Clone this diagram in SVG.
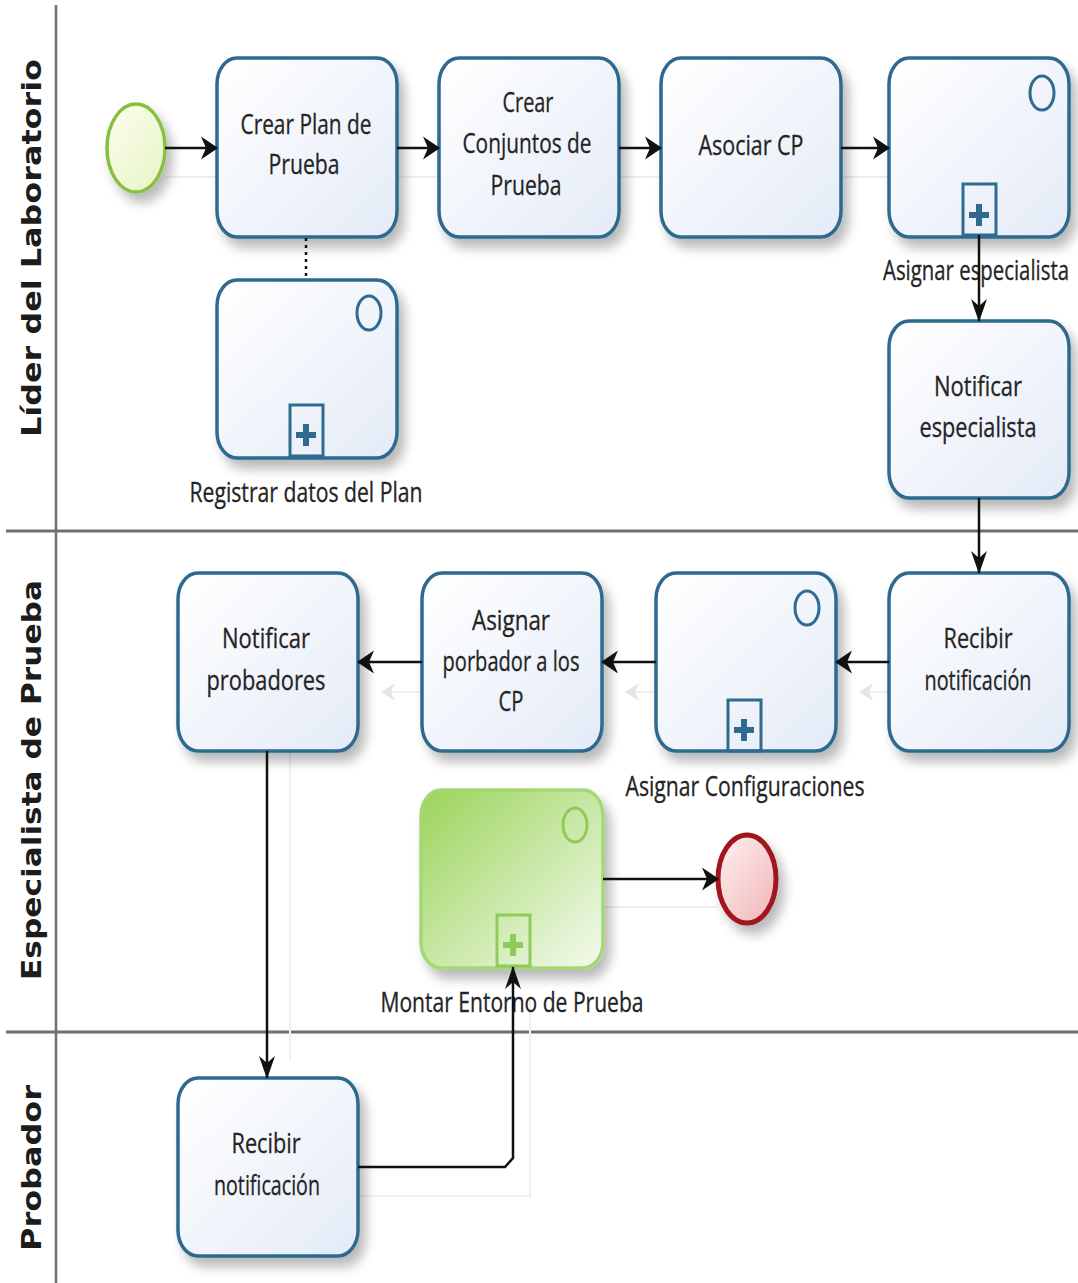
<svg xmlns="http://www.w3.org/2000/svg" width="1078" height="1283" viewBox="0 0 1078 1283">
  <defs>
    <linearGradient id="taskFill" x1="0" y1="0" x2="1" y2="1">
      <stop offset="0" stop-color="#ffffff"/>
      <stop offset="1" stop-color="#e4ebf7"/>
    </linearGradient>
    <linearGradient id="greenFill" x1="0" y1="0" x2="1" y2="1">
      <stop offset="0" stop-color="#9bd45a"/>
      <stop offset="1" stop-color="#f4faee"/>
    </linearGradient>
    <linearGradient id="startFill" x1="0" y1="0" x2="1" y2="1">
      <stop offset="0" stop-color="#fdfeee"/>
      <stop offset="1" stop-color="#e6f4c4"/>
    </linearGradient>
    <linearGradient id="endFill" x1="0" y1="0" x2="1" y2="1">
      <stop offset="0" stop-color="#fff2f2"/>
      <stop offset="1" stop-color="#f0b4b6"/>
    </linearGradient>
    <filter id="shadow" x="-20%" y="-20%" width="150%" height="150%">
      <feGaussianBlur in="SourceAlpha" stdDeviation="6"/>
      <feOffset dx="6" dy="9" result="b"/>
      <feComponentTransfer><feFuncA type="linear" slope="0.28"/></feComponentTransfer>
      <feMerge><feMergeNode/><feMergeNode in="SourceGraphic"/></feMerge>
    </filter>
    <marker id="arrowH" markerUnits="userSpaceOnUse" viewBox="0 -12 17 24" markerWidth="17" markerHeight="24" refX="16" refY="0" orient="auto">
      <path d="M0,-11.5 L17,0 L0,11.5 L5,0 Z" fill="#111"/>
    </marker>
    <marker id="arrowV" markerUnits="userSpaceOnUse" viewBox="0 -9 23 18" markerWidth="23" markerHeight="18" refX="22" refY="0" orient="auto">
      <path d="M0,-8 L23,0 L0,8 L7,0 Z" fill="#111"/>
    </marker>
    <marker id="ghostArrow" markerUnits="userSpaceOnUse" viewBox="0 -10 14 20" markerWidth="14" markerHeight="20" refX="13" refY="0" orient="auto">
      <path d="M0,-9 L14,0 L0,9 L4,0 Z" fill="#e6e6e6"/>
    </marker>
  </defs>
  <style>
    .task { fill: url(#taskFill); stroke: #2e6b8f; stroke-width: 3.5; filter: url(#shadow); }
    .mark { fill: none; stroke: #2e6b8f; stroke-width: 3; }
    .plus { fill: #2e6b8f; }
    .gmark { fill: none; stroke: #8fcb5a; stroke-width: 3; }
    .gplus { fill: #8fcb5a; }
    .txt { font-family: "Open Sans", "Liberation Sans", sans-serif; font-size: 27px; fill: #242424; stroke: #242424; stroke-width: 0.3; text-anchor: middle; }
    .lane { font-family: "DejaVu Sans", "Liberation Sans", sans-serif; font-weight: bold; font-size: 26px; fill: #1c1c1c; text-anchor: middle; }
    .pool { stroke: #6e6e6e; fill: none; }
    .flow { fill: none; stroke: #111; stroke-width: 2.5; }
    .ghost { fill: none; stroke: #efefef; stroke-width: 2; }
  </style>

  <!-- pool and lane borders -->
  <g id="lanes">
    <line class="pool" x1="56" y1="5" x2="56" y2="1283" stroke-width="2.5"/>
    <line class="pool" x1="6" y1="531" x2="1078" y2="531" stroke-width="3"/>
    <line class="pool" x1="6" y1="1032" x2="1078" y2="1032" stroke-width="3"/>
    <text class="lane" transform="translate(41,248) rotate(-90)" textLength="378" lengthAdjust="spacingAndGlyphs">Líder del Laboratorio</text>
    <text class="lane" transform="translate(41,780) rotate(-90)" textLength="400" lengthAdjust="spacingAndGlyphs">Especialista de Prueba</text>
    <text class="lane" transform="translate(41,1168) rotate(-90)" textLength="166" lengthAdjust="spacingAndGlyphs">Probador</text>
  </g>

  <!-- faint secondary routing lines -->
  <g id="ghost-lines">
    <path class="ghost" d="M166,177 H215 M398,177 H437 M620,177 H659 M842,177 H887"/>
    <path class="ghost" d="M420,692 H382" marker-end="url(#ghostArrow)"/>
    <path class="ghost" d="M656,692 H626" marker-end="url(#ghostArrow)"/>
    <path class="ghost" d="M890,692 H860" marker-end="url(#ghostArrow)"/>
    <path class="ghost" d="M604,907 H718"/>
    <path class="ghost" d="M290,752 V1060 M292,1196 H530 V1000"/>
  </g>

  <!-- start event -->
  <g id="start">
    <ellipse cx="136" cy="148" rx="29" ry="44" fill="url(#startFill)" stroke="#86c040" stroke-width="3.5" filter="url(#shadow)"/>
  </g>

  <!-- Líder del Laboratorio lane -->
  <g id="crear-plan">
    <rect class="task" x="217" y="58" width="180" height="179" rx="20" ry="26"/>
    <text class="txt" x="306" y="134" textLength="131" lengthAdjust="spacingAndGlyphs">Crear Plan de</text>
    <text class="txt" x="304" y="174" textLength="71" lengthAdjust="spacingAndGlyphs">Prueba</text>
  </g>
  <g id="crear-conjuntos">
    <rect class="task" x="439" y="58" width="180" height="179" rx="20" ry="26"/>
    <text class="txt" x="528" y="112" textLength="51" lengthAdjust="spacingAndGlyphs">Crear</text>
    <text class="txt" x="527" y="153" textLength="129" lengthAdjust="spacingAndGlyphs">Conjuntos de</text>
    <text class="txt" x="526" y="195" textLength="71" lengthAdjust="spacingAndGlyphs">Prueba</text>
  </g>
  <g id="asociar-cp">
    <rect class="task" x="661" y="58" width="180" height="179" rx="20" ry="26"/>
    <text class="txt" x="751" y="155" textLength="105" lengthAdjust="spacingAndGlyphs">Asociar CP</text>
  </g>
  <g id="asignar-especialista">
    <rect class="task" x="889" y="58" width="180" height="179" rx="20" ry="26"/>
    <ellipse class="mark" cx="1042" cy="93" rx="12" ry="17"/>
    <rect class="mark" x="963" y="184" width="33" height="51"/>
    <path class="plus" d="M976,204 h6 v8 h7 v6 h-7 v8 h-6 v-8 h-7 v-6 h7 z"/>
    <text class="txt" x="976" y="280" textLength="186" lengthAdjust="spacingAndGlyphs">Asignar especialista</text>
  </g>
  <g id="registrar-datos">
    <rect class="task" x="217" y="280" width="180" height="178" rx="20" ry="26"/>
    <ellipse class="mark" cx="369" cy="313" rx="12" ry="17"/>
    <rect class="mark" x="290" y="405" width="33" height="51"/>
    <path class="plus" d="M303,424 h6 v8 h7 v6 h-7 v8 h-6 v-8 h-7 v-6 h7 z"/>
    <text class="txt" x="306" y="502" textLength="233" lengthAdjust="spacingAndGlyphs">Registrar datos del Plan</text>
  </g>
  <g id="notificar-especialista">
    <rect class="task" x="889" y="321" width="180" height="177" rx="20" ry="26"/>
    <text class="txt" x="978" y="396" textLength="88" lengthAdjust="spacingAndGlyphs">Notificar</text>
    <text class="txt" x="978" y="437" textLength="117" lengthAdjust="spacingAndGlyphs">especialista</text>
  </g>

  <!-- Especialista de Prueba lane -->
  <g id="recibir-notificacion-esp">
    <rect class="task" x="889" y="573" width="180" height="178" rx="20" ry="26"/>
    <text class="txt" x="978" y="648" textLength="69" lengthAdjust="spacingAndGlyphs">Recibir</text>
    <text class="txt" x="978" y="690" textLength="107" lengthAdjust="spacingAndGlyphs">notificación</text>
  </g>
  <g id="asignar-configuraciones">
    <rect class="task" x="656" y="573" width="180" height="178" rx="20" ry="26"/>
    <ellipse class="mark" cx="807" cy="608" rx="12" ry="17"/>
    <rect class="mark" x="728" y="700" width="33" height="51"/>
    <path class="plus" d="M741,719 h6 v8 h7 v6 h-7 v8 h-6 v-8 h-7 v-6 h7 z"/>
    <text class="txt" x="745" y="796" textLength="239" lengthAdjust="spacingAndGlyphs">Asignar Configuraciones</text>
  </g>
  <g id="asignar-probador">
    <rect class="task" x="422" y="573" width="180" height="178" rx="20" ry="26"/>
    <text class="txt" x="511" y="630" textLength="78" lengthAdjust="spacingAndGlyphs">Asignar</text>
    <text class="txt" x="511" y="671" textLength="137" lengthAdjust="spacingAndGlyphs">porbador a los</text>
    <text class="txt" x="511" y="711" textLength="25" lengthAdjust="spacingAndGlyphs">CP</text>
  </g>
  <g id="notificar-probadores">
    <rect class="task" x="178" y="573" width="180" height="178" rx="20" ry="26"/>
    <text class="txt" x="266" y="648" textLength="88" lengthAdjust="spacingAndGlyphs">Notificar</text>
    <text class="txt" x="266" y="690" textLength="119" lengthAdjust="spacingAndGlyphs">probadores</text>
  </g>
  <g id="montar-entorno">
    <rect x="421" y="790" width="182" height="178" rx="20" ry="26" fill="url(#greenFill)" stroke="#a4d774" stroke-width="3.5" filter="url(#shadow)"/>
    <ellipse class="gmark" cx="575" cy="825" rx="12" ry="17"/>
    <rect class="gmark" x="497" y="915" width="33" height="51"/>
    <path class="gplus" d="M510,934 h6 v8 h7 v6 h-7 v8 h-6 v-8 h-7 v-6 h7 z"/>
    <text class="txt" x="512" y="1012" textLength="263" lengthAdjust="spacingAndGlyphs">Montar Entorno de Prueba</text>
  </g>
  <g id="end">
    <ellipse cx="747" cy="879" rx="29" ry="44" fill="url(#endFill)" stroke="#a0181c" stroke-width="5" filter="url(#shadow)"/>
  </g>

  <!-- Probador lane -->
  <g id="recibir-notificacion-prob">
    <rect class="task" x="178" y="1078" width="180" height="178" rx="20" ry="26"/>
    <text class="txt" x="266" y="1153" textLength="69" lengthAdjust="spacingAndGlyphs">Recibir</text>
    <text class="txt" x="267" y="1195" textLength="106" lengthAdjust="spacingAndGlyphs">notificación</text>
  </g>

  <!-- sequence flows and association -->
  <g id="connectors">
    <path class="flow" d="M306,238 V280" stroke-width="3" stroke-dasharray="3,4"/>
    <path class="flow" d="M165,148 H217" marker-end="url(#arrowH)"/>
    <path class="flow" d="M397,148 H439" marker-end="url(#arrowH)"/>
    <path class="flow" d="M619,148 H661" marker-end="url(#arrowH)"/>
    <path class="flow" d="M841,148 H889" marker-end="url(#arrowH)"/>
    <path class="flow" d="M979,235 V321" marker-end="url(#arrowV)"/>
    <path class="flow" d="M979,498 V573" marker-end="url(#arrowV)"/>
    <path class="flow" d="M889,662 H836" marker-end="url(#arrowH)"/>
    <path class="flow" d="M656,662 H602" marker-end="url(#arrowH)"/>
    <path class="flow" d="M422,662 H358" marker-end="url(#arrowH)"/>
    <path class="flow" d="M267,751 V1078" marker-end="url(#arrowV)"/>
    <path class="flow" d="M358,1167 H505 L513,1158 V967" marker-end="url(#arrowV)"/>
    <path class="flow" d="M603,879 H718" marker-end="url(#arrowH)"/>
  </g>
</svg>
